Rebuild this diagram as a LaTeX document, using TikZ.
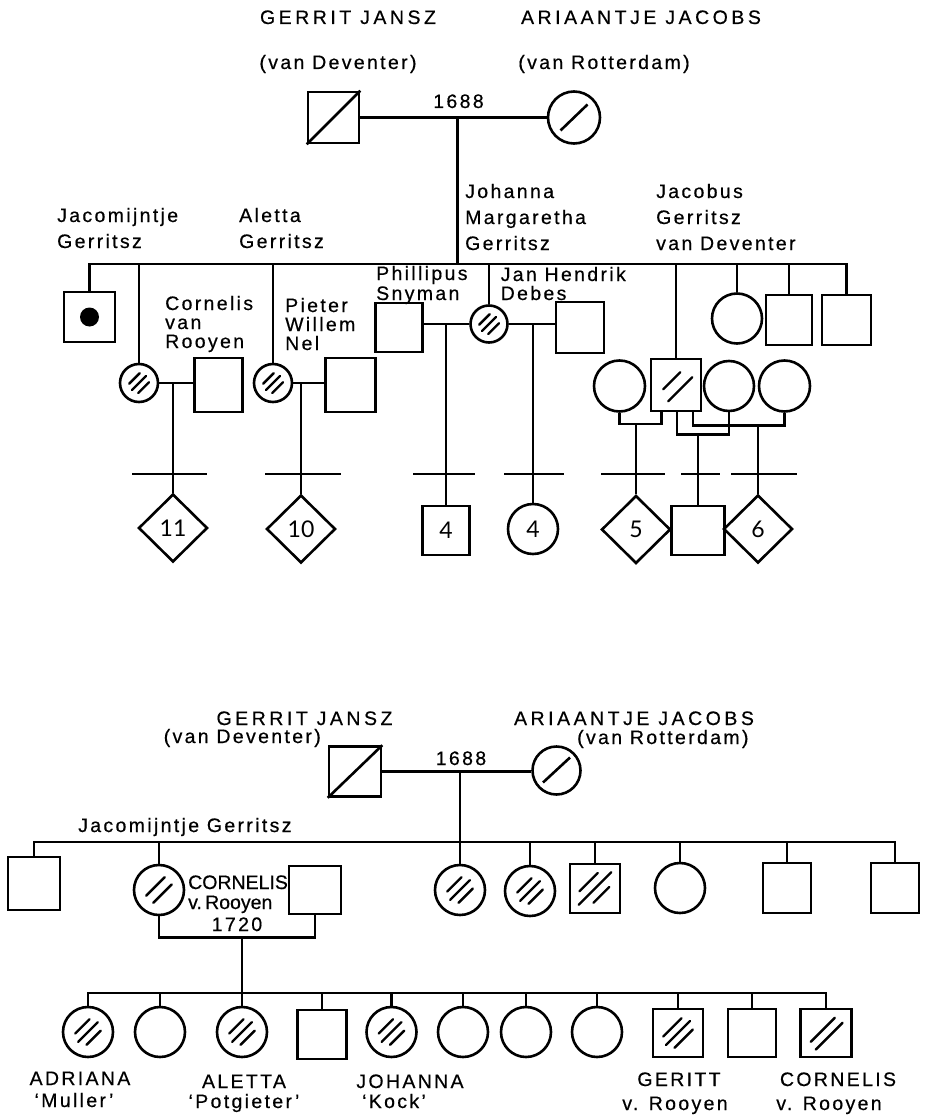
\documentclass[tikz,border=0pt]{standalone}
\usepackage{fontspec}
\setmainfont{Liberation Sans}[FakeBold=0.5]
\newfontfamily\spfont{Liberation Sans}[LetterSpace=12, FakeBold=0.5]
\newfontfamily\capsfont{Liberation Sans}[LetterSpace=18, FakeBold=0.5]
\newfontfamily\numfont{Lato}
\usetikzlibrary{shapes.geometric,calc}
\newcommand\myhatch[3]{\draw[hatchln] ($(#1)+({(#2-#3)*0.7071},{(#2+#3)*0.7071})$) -- ++({1.4142*#3},{-1.4142*#3});}
\tikzset{
  ln/.style={line width=2.6pt},
  hatchln/.style={line width=2.4pt, line cap=round},
  sz/.style 2 args={minimum width=#1, minimum height=#2},
  male/.style={draw, ln, rectangle, inner sep=0pt},
  female/.style={draw, ln, circle, inner sep=0pt},
  numin/.style={font=\numfont\fontsize{23}{23}\selectfont},
  unk/.style={draw, ln, diamond, inner sep=0pt, minimum width=69, minimum height=68, numin},
  lbl/.style={font=\spfont\fontsize{19.5}{20}\selectfont, inner sep=0pt, anchor=base west},
  lblc/.style={lbl, anchor=base},
  bigname/.style={font=\capsfont\fontsize{19.5}{20}\selectfont, inner sep=0pt, anchor=base},
  plain/.style={font=\fontsize{19.5}{22}\selectfont, inner sep=0pt, anchor=base west},
}
\begin{document}
\begin{tikzpicture}[x=1pt,y=-1pt]
\fill[white] (0,0) rectangle (928,1118);
\useasboundingbox (0,0) rectangle (928,1118);

% ================= TOP DIAGRAM =================
\node[bigname] (t-gj) at (348,24) {GERRIT JANSZ};
\node[bigname] (t-aj) at (641,24) {ARIAANTJE JACOBS};
\node[lblc] (t-vd) at (338,69) {(van Deventer)};
\node[lblc] (t-vr) at (604,69) {(van Rotterdam)};
\node[male, sz={51}{51}] (gj) at (333.5,117.5) {};
\draw[ln] (gj.south west) -- (gj.north east);
\node[female, minimum size=52] (aj) at (574,117.5) {};
\draw[ln] ($(aj)+(-13.5,13)$) -- ($(aj)+(13.5,-13)$);
\draw[ln] (gj.east) -- (aj.west);
\node[lblc] (t-1688) at (458.5,108) {1688};
\coordinate (m0) at (457.5,117.5);
\coordinate (s0L) at (91,264);
\draw[ln] (m0) -- (m0 |- s0L);

% children
\node[male, sz={51}{50}] (c1) at (89.5,317) {};
\node[circle, fill=black, inner sep=0pt, minimum size=19] (c1dot) at (c1) {};
\node[female, minimum size=38] (c2) at (139,383) {};
\node[male, sz={48}{54}] (c2h) at (218.5,385) {};
\node[female, minimum size=38] (c3) at (273,383) {};
\node[male, sz={50}{54}] (c3h) at (350.5,385) {};
\node[male, sz={47}{49}] (c4a) at (399,327.5) {};
\node[female, minimum size=37] (c4) at (489,324) {};
\node[male, sz={48}{51}] (c4b) at (580,327.5) {};
\node[male, sz={50}{52}] (c5) at (676,385) {};
\node[female, minimum size=51] (w1) at (619.5,386) {};
\node[female, minimum size=50] (w2) at (729,386) {};
\node[female, minimum size=51] (w3) at (784.5,386) {};
\node[female, minimum size=50] (c6) at (737,318.5) {};
\node[male, sz={46}{50}] (c7) at (789,320) {};
\node[male, sz={49}{50}] (c8) at (846.5,320) {};

\draw[ln] (c1.north) |- (c8.north |- s0L) -- (c8.north);
\foreach \n in {c2,c3,c4,c5,c6,c7} \draw[ln] (\n.north) -- (\n.north |- s0L);

\draw[ln] (c2.east) -- (c2.east -| c2h.west);
\draw[ln] (c3.east) -- (c3.east -| c3h.west);
\draw[ln] (c4a.east |- c4.west) -- (c4.west);
\draw[ln] (c4.east) -- (c4.east -| c4b.west);

% grandchildren
\node[unk] (d11) at (173,528) {11};
\node[unk] (d10) at (301,529) {10};
\node[male, sz={47}{49}, numin] (k4a) at (446,530.5) {4};
\node[female, minimum size=50, numin] (k4b) at (533,529) {4};
\node[unk] (d5) at (636,529.5) {5};
\node[male, sz={53}{49}] (k5) at (698,530.5) {};
\node[unk] (d6) at (758,529) {6};

\draw[ln] (d11.north |- c2.east) -- (d11.north);
\draw[ln] (d10.north |- c3.east) -- (d10.north);
\draw[ln] (k4a.north |- c4.west) -- (k4a.north);
\draw[ln] (k4b.north |- c4.east) -- (k4b.north);

\draw[ln] (w1.south) -- ++(0,11) coordinate (u1) -| ($(c5.south west)+(12,0)$);
\draw[ln] (d5.north) -- (d5.north |- u1);
\draw[ln] ($(c5.south)+(1,0)$) -- ++(0,22) coordinate (u2) -| (w2.south);
\draw[ln] (k5.north) -- (k5.north |- u2);
\draw[ln] ($(c5.south)+(17,0)$) -- ++(0,13) coordinate (u3) -| (w3.south);
\draw[ln] (d6.north) -- (d6.north |- u3);

\foreach \a/\b in {132/207, 265/341, 413/475, 504/564, 601/665, 681/720, 731/797}
  \draw[ln] (\a,474) -- (\b,474);

\foreach \n in {c2,c3,c4} {\myhatch{\n}{-6.5}{7.5}\myhatch{\n}{0}{10}\myhatch{\n}{6.5}{7.5}}
\myhatch{c5}{-6}{12}\myhatch{c5}{6}{17}

% labels
\node[lbl] (l-jg1) at (57,222) {Jacomijntje};
\node[lbl] (l-jg2) at (57,248) {Gerritsz};
\node[lbl] (l-ag1) at (239,222) {Aletta};
\node[lbl] (l-ag2) at (239,248) {Gerritsz};
\node[lbl] (l-cr1) at (165,310) {Cornelis};
\node[lbl] (l-cr2) at (165,329) {van};
\node[lbl] (l-cr3) at (165,348) {Rooyen};
\node[lbl] (l-pw1) at (285,312) {Pieter};
\node[lbl] (l-pw2) at (285,331) {Willem};
\node[lbl] (l-pw3) at (285,350) {Nel};
\node[lbl] (l-ps1) at (376,280) {Phillipus};
\node[lbl] (l-ps2) at (376,300) {Snyman};
\node[lbl] (l-jh1) at (500.5,281) {Jan Hendrik};
\node[lbl] (l-jh2) at (500.5,300) {Debes};
\node[lbl] (l-jm1) at (465,198) {Johanna};
\node[lbl] (l-jm2) at (465,224) {Margaretha};
\node[lbl] (l-jm3) at (465,250) {Gerritsz};
\node[lbl] (l-jb1) at (656,198) {Jacobus};
\node[lbl] (l-jb2) at (656,224) {Gerritsz};
\node[lbl] (l-jb3) at (656,250) {van Deventer};

% ================= BOTTOM DIAGRAM =================
\node[bigname] (b-gj) at (304.5,725) {GERRIT JANSZ};
\node[lbl, anchor=base east] (b-vd) at (321,743) {(van Deventer)};
\node[bigname] (b-aj) at (634,725) {ARIAANTJE JACOBS};
\node[lbl] (b-vr) at (577,744) {(van Rotterdam)};
\node[male, sz={52}{50}] (bgj) at (355,771.5) {};
\draw[ln] (bgj.south west) -- (bgj.north east);
\node[female, minimum size=48] (baj) at (556.5,770.5) {};
\draw[ln] ($(baj)+(-13.5,12)$) -- ($(baj)+(13.5,-13)$);
\draw[ln] (bgj.east) -- (bgj.east -| baj.west);
\node[lblc] (b-1688) at (461,765) {1688};
\coordinate (m1) at (460,771.5);
\coordinate (s1L) at (33,842);

\node[male, sz={52}{53}] (b1) at (34,883.5) {};
\node[female, minimum size=50] (b2) at (159,890) {};
\node[male, sz={52}{48}] (b2h) at (315,890) {};
\node[female, minimum size=50] (b3) at (460,890) {};
\node[female, minimum size=50] (b4) at (530,891) {};
\node[male, sz={50}{49}] (b5) at (595,888.5) {};
\node[female, minimum size=50] (b6) at (680,888) {};
\node[male, sz={48}{50}] (b7) at (787,888) {};
\node[male, sz={48}{50}] (b8) at (895,888) {};

\draw[ln] (m1) -- (b3.north);
\draw[ln] (b1.north) |- (b8.north |- s1L) -- (b8.north);
\foreach \n in {b2,b4,b5,b6,b7} \draw[ln] (\n.north) -- (\n.north |- s1L);
\draw[ln] (b2.south) -- ++(0,21) coordinate (u4) -| (b2h.south);

\coordinate (s2L) at (87,993);
\node[female, minimum size=50] (g1) at (88,1032) {};
\node[female, minimum size=50] (g2) at (160,1032) {};
\node[female, minimum size=50] (g3) at (242,1032) {};
\node[male, sz={49}{49}] (g4) at (322,1034.5) {};
\node[female, minimum size=50] (g5) at (391.5,1032) {};
\node[female, minimum size=50] (g6) at (463,1032) {};
\node[female, minimum size=50] (g7) at (526,1032) {};
\node[female, minimum size=50] (g8) at (597,1032) {};
\node[male, sz={50}{48}] (g9) at (678,1033) {};
\node[male, sz={48}{48}] (g10) at (752,1033) {};
\node[male, sz={51}{48}] (g11) at (826,1033) {};

\draw[ln] (u4 -| g3.north) -- (g3.north);
\draw[ln] (g1.north) |- (g11.north |- s2L) -- (g11.north);
\foreach \n in {g2,g4,g5,g6,g7,g8,g9,g10} \draw[ln] (\n.north) -- (\n.north |- s2L);

\myhatch{b2}{-5}{13}\myhatch{b2}{5}{13}
\foreach \n in {b3,b4,g1,g3,g5} {\myhatch{\n}{-8}{10}\myhatch{\n}{0}{14}\myhatch{\n}{8}{10}}
\myhatch{b5}{-9}{13}\myhatch{b5}{0}{23}\myhatch{b5}{9}{11}
\myhatch{g9}{-8}{13}\myhatch{g9}{0}{17}\myhatch{g9}{8}{13}
\myhatch{g11}{-4.5}{17}\myhatch{g11}{4.5}{19}

\node[lbl] (b-jg) at (78,832) {Jacomijntje Gerritsz};
\node[plain] (b-cr1) at (188,889) {CORNELIS};
\node[plain] (b-cr2) at (188,909) {v.\,Rooyen};
\node[lblc] (b-1720) at (237,931) {1720};
\node[lblc] (n-ad1) at (80,1085) {ADRIANA};
\node[lblc] (n-ad2) at (74,1107) {‘Muller’};
\node[lblc] (n-al1) at (244,1088) {ALETTA};
\node[lblc] (n-al2) at (244,1108) {‘Potgieter’};
\node[lblc] (n-jo1) at (410,1088) {JOHANNA};
\node[lblc] (n-jo2) at (394,1108) {‘Kock’};
\node[lblc] (n-ge1) at (679,1086) {GERITT};
\node[lblc] (n-ge2) at (675,1110) {v. Rooyen};
\node[lblc] (n-co1) at (838,1086) {CORNELIS};
\node[lblc] (n-co2) at (829,1110) {v. Rooyen};
\end{tikzpicture}
\end{document}
